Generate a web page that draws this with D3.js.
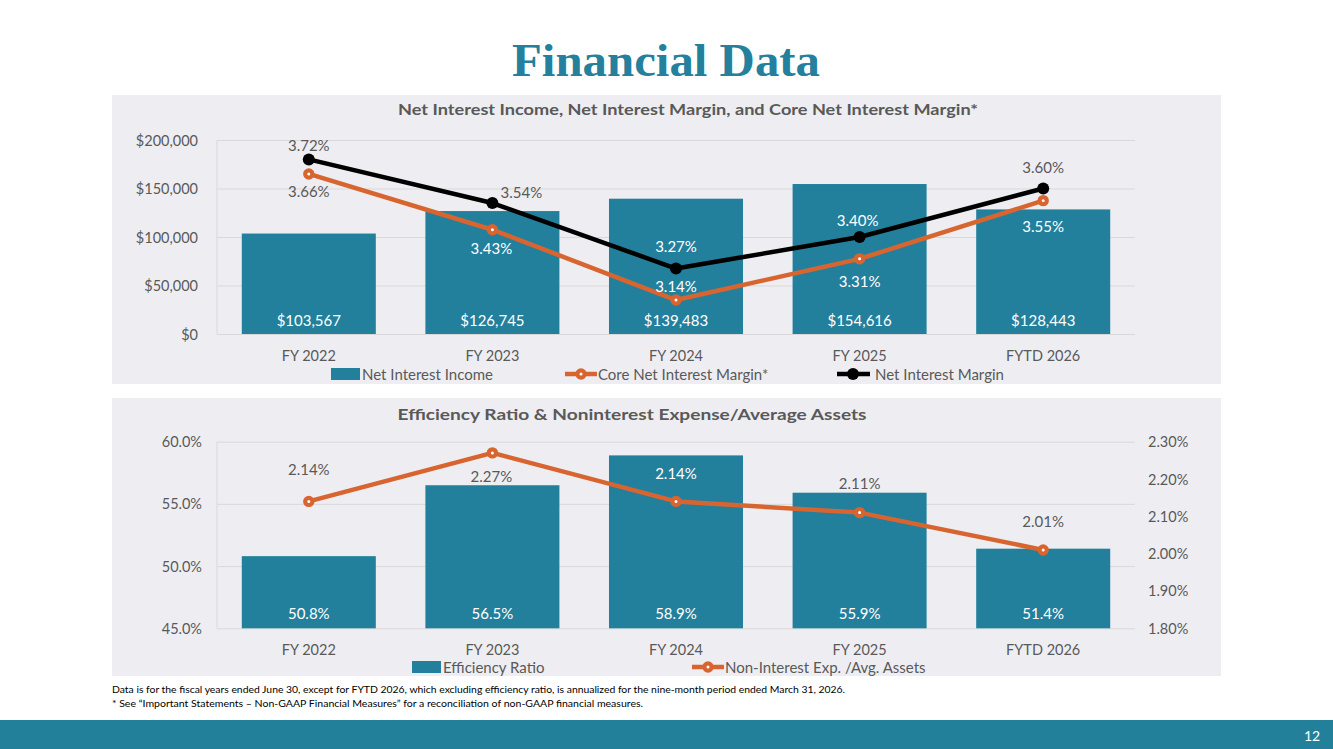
<!DOCTYPE html>
<html lang="en">
<head>
<meta charset="UTF-8">
<title>Financial Data</title>
<script src="https://cdn.jsdelivr.net/npm/d3@7/dist/d3.min.js"></script>
<style>
  body { margin: 0; background: #fff; }
  svg text { font-family: Lato, "Liberation Sans", sans-serif; }
</style>
</head>
<body>
<div id="chart"></div>
<script>
// chart values
const years = ["FY 2022", "FY 2023", "FY 2024", "FY 2025", "FYTD 2026"];
const netInterestIncome = [103567, 126745, 139483, 154616, 128443];
const coreNim = [3.66, 3.43, 3.14, 3.31, 3.55];
const nim = [3.72, 3.54, 3.27, 3.40, 3.60];
const efficiencyRatio = [50.8, 56.5, 58.9, 55.9, 51.4];
const nonIntExpAssets = [2.14, 2.27, 2.14, 2.11, 2.01];
const incomeTicks = [0, 50000, 100000, 150000, 200000];
const effTicks = [45, 50, 55, 60];
const expTicks = [1.8, 1.9, 2.0, 2.1, 2.2, 2.3];

// label nudges (like the hand-placed excel labels)
const nimLabelOff = [[0, -14], [29, -11], [0, -23], [-2, -17], [0, -22]];
const coreLabelOff = [[0, 17], [-1, 18], [0, -14], [0, 22], [0, 25]];
const expLabelOff = [[0, -32], [-1, 23], [0, -28], [0, -30], [0, -29]];

const W = 1333, H = 749;
const teal = "#23809c", orange = "#d8652f", grey = "#595959", panelBg = "#eeeef2";
const tickFs = "14.5px", labelFs = "15px";

const svg = d3.select("#chart").append("svg").attr("width", W).attr("height", H);

svg.append("text")
  .attr("x", 666).attr("y", 76)
  .attr("text-anchor", "middle")
  .style("font-family", "'Liberation Serif', 'DejaVu Serif', serif")
  .style("font-weight", "bold").style("font-size", "47px")
  .attr("fill", "#24809d")
  .attr("textLength", 308).attr("lengthAdjust", "spacingAndGlyphs")
  .text("Financial Data");

// panels
svg.append("rect").attr("x", 112).attr("y", 95).attr("width", 1109).attr("height", 289).attr("fill", panelBg);
svg.append("rect").attr("x", 112).attr("y", 398).attr("width", 1109).attr("height", 278).attr("fill", panelBg);

const x = d3.scaleBand().domain(years).range([217, 1135]).paddingInner(0.27).paddingOuter(0.135);
const cx = d => x(d) + x.bandwidth() / 2;

function grid(g, scale, ticks) {
  g.append("g")
    .attr("transform", "translate(217,0)")
    .call(d3.axisLeft(scale).tickValues(ticks).tickSize(-918).tickFormat(""))
    .call(a => a.select(".domain").remove())
    .call(a => a.selectAll("line").attr("stroke", "#d9d9d9").attr("stroke-width", 1));
  g.append("line").attr("x1", 217).attr("x2", 217)
    .attr("y1", scale.range()[1]).attr("y2", scale.range()[0])
    .attr("stroke", "#d9d9d9");
}

function xLabels(g, y) {
  g.selectAll(".xl").data(years).join("text")
    .attr("x", d => cx(d)).attr("y", y)
    .attr("text-anchor", "middle").attr("dominant-baseline", "central")
    .attr("fill", grey).style("font-size", tickFs)
    .text(d => d);
}

function lineSeries(g, vals, scale, color, width, white) {
  const line = d3.line().x((d, i) => cx(years[i])).y(d => scale(d));
  g.append("path").datum(vals).attr("d", line)
    .attr("fill", "none").attr("stroke", color).attr("stroke-width", width)
    .attr("stroke-linejoin", "round");
  g.selectAll(null).data(vals).join("circle")
    .attr("cx", (d, i) => cx(years[i])).attr("cy", d => scale(d))
    .attr("r", white ? 3.6 : 6)
    .attr("fill", white ? "#fff" : color)
    .attr("stroke", color).attr("stroke-width", white ? 4.2 : 0);
}

function pointLabels(g, vals, scale, offs, barTops, fmt) {
  g.selectAll(null).data(vals).join("text")
    .attr("x", (d, i) => cx(years[i]) + offs[i][0])
    .attr("y", (d, i) => scale(d) + offs[i][1])
    .attr("text-anchor", "middle").attr("dominant-baseline", "central")
    .style("font-size", labelFs)
    .attr("fill", (d, i) => (scale(d) + offs[i][1] > barTops[i] + 4) ? "#fff" : grey)
    .text(fmt);
}

function chartTitle(g, xc, y, len, txt) {
  g.append("text").attr("x", xc - len / 2).attr("y", y)
    .attr("dominant-baseline", "central")
    .attr("fill", grey).style("font-size", "16px").style("font-weight", "bold")
    .attr("textLength", len).attr("lengthAdjust", "spacingAndGlyphs")
    .text(txt);
}

// ---------- top chart ----------
const topG = svg.append("g");
const yInc = d3.scaleLinear().domain([0, 200000]).range([334, 140]);
const yMargin = d3.scaleLinear().domain([3.0, 3.8]).range([334, 140]);

chartTitle(topG, 688, 108, 580, "Net Interest Income, Net Interest Margin, and Core Net Interest Margin*");

grid(topG, yInc, incomeTicks);
topG.selectAll(".yl").data(incomeTicks).join("text")
  .attr("x", 198).attr("y", d => yInc(d))
  .attr("text-anchor", "end").attr("dominant-baseline", "central")
  .attr("fill", grey).style("font-size", tickFs)
  .text(d => "$" + d3.format(",")(d));

topG.selectAll(".bar").data(netInterestIncome).join("rect")
  .attr("x", (d, i) => x(years[i])).attr("width", x.bandwidth())
  .attr("y", d => yInc(d)).attr("height", d => yInc(0) - yInc(d))
  .attr("fill", teal);
topG.selectAll(".bl").data(netInterestIncome).join("text")
  .attr("x", (d, i) => cx(years[i])).attr("y", 320)
  .attr("text-anchor", "middle").attr("dominant-baseline", "central")
  .attr("fill", "#fff").style("font-size", labelFs)
  .text(d => "$" + d3.format(",")(d));

lineSeries(topG, coreNim, yMargin, orange, 4.5, true);
lineSeries(topG, nim, yMargin, "#000", 4.5, false);
const incTops = netInterestIncome.map(v => yInc(v));
pointLabels(topG, nim, yMargin, nimLabelOff, incTops, d => d.toFixed(2) + "%");
pointLabels(topG, coreNim, yMargin, coreLabelOff, incTops, d => d.toFixed(2) + "%");
xLabels(topG, 355);

// top legend
const lg1 = topG.append("g").style("font-size", labelFs);
lg1.append("rect").attr("x", 331).attr("y", 368).attr("width", 29).attr("height", 12).attr("fill", teal);
lg1.append("text").attr("x", 362).attr("y", 374).attr("dominant-baseline", "central").attr("fill", grey).text("Net Interest Income");
lg1.append("line").attr("x1", 565).attr("x2", 597).attr("y1", 374).attr("y2", 374).attr("stroke", orange).attr("stroke-width", 4.5);
lg1.append("circle").attr("cx", 581).attr("cy", 374).attr("r", 3.6).attr("fill", "#fff").attr("stroke", orange).attr("stroke-width", 4.2);
lg1.append("text").attr("x", 598).attr("y", 374).attr("dominant-baseline", "central").attr("fill", grey).text("Core Net Interest Margin*");
lg1.append("line").attr("x1", 837).attr("x2", 870).attr("y1", 374).attr("y2", 374).attr("stroke", "#000").attr("stroke-width", 4.5);
lg1.append("circle").attr("cx", 853).attr("cy", 374).attr("r", 6).attr("fill", "#000");
lg1.append("text").attr("x", 875).attr("y", 374).attr("dominant-baseline", "central").attr("fill", grey).text("Net Interest Margin");

// ---------- bottom chart ----------
const botG = svg.append("g");
const yEff = d3.scaleLinear().domain([45, 60]).range([628.3, 441.7]);
const yExp = d3.scaleLinear().domain([1.8, 2.3]).range([628.3, 441.7]);

chartTitle(botG, 632, 413, 469, "Efficiency Ratio & Noninterest Expense/Average Assets");

grid(botG, yEff, effTicks);
botG.selectAll(".yl").data(effTicks).join("text")
  .attr("x", 202).attr("y", d => yEff(d))
  .attr("text-anchor", "end").attr("dominant-baseline", "central")
  .attr("fill", grey).style("font-size", tickFs)
  .text(d => d.toFixed(1) + "%");
botG.selectAll(".yr").data(expTicks).join("text")
  .attr("x", 1148).attr("y", d => yExp(d))
  .attr("text-anchor", "start").attr("dominant-baseline", "central")
  .attr("fill", grey).style("font-size", tickFs)
  .text(d => d.toFixed(2) + "%");

botG.selectAll(".bar").data(efficiencyRatio).join("rect")
  .attr("x", (d, i) => x(years[i])).attr("width", x.bandwidth())
  .attr("y", d => yEff(d)).attr("height", d => yEff(45) - yEff(d))
  .attr("fill", teal);
botG.selectAll(".bl").data(efficiencyRatio).join("text")
  .attr("x", (d, i) => cx(years[i])).attr("y", 613)
  .attr("text-anchor", "middle").attr("dominant-baseline", "central")
  .attr("fill", "#fff").style("font-size", labelFs)
  .text(d => d.toFixed(1) + "%");

lineSeries(botG, nonIntExpAssets, yExp, orange, 4.5, true);
pointLabels(botG, nonIntExpAssets, yExp, expLabelOff, efficiencyRatio.map(v => yEff(v)), d => d.toFixed(2) + "%");
xLabels(botG, 649);

const lg2 = botG.append("g").style("font-size", labelFs);
lg2.append("rect").attr("x", 412).attr("y", 661).attr("width", 29).attr("height", 12).attr("fill", teal);
lg2.append("text").attr("x", 443).attr("y", 667).attr("dominant-baseline", "central").attr("fill", grey).text("Efficiency Ratio");
lg2.append("line").attr("x1", 692).attr("x2", 724).attr("y1", 667).attr("y2", 667).attr("stroke", orange).attr("stroke-width", 4.5);
lg2.append("circle").attr("cx", 708).attr("cy", 667).attr("r", 3.6).attr("fill", "#fff").attr("stroke", orange).attr("stroke-width", 4.2);
lg2.append("text").attr("x", 725).attr("y", 667).attr("dominant-baseline", "central").attr("fill", grey).text("Non-Interest Exp. /Avg. Assets");

// footnotes
svg.append("text").attr("x", 112).attr("y", 693)
  .style("font-size", "9.5px").attr("fill", "#000")
  .attr("textLength", 733).attr("lengthAdjust", "spacingAndGlyphs")
  .text("Data is for the fiscal years ended June 30, except for FYTD 2026, which excluding efficiency ratio, is annualized for the nine-month period ended March 31, 2026.");
svg.append("text").attr("x", 112).attr("y", 707)
  .style("font-size", "9.5px").attr("fill", "#000")
  .attr("textLength", 531).attr("lengthAdjust", "spacingAndGlyphs")
  .text("* See \u201cImportant Statements \u2013 Non-GAAP Financial Measures\u201d for a reconciliation of non-GAAP financial measures.");

// footer bar
svg.append("rect").attr("x", 0).attr("y", 720).attr("width", W).attr("height", 29).attr("fill", "#22809b");
svg.append("text").attr("x", 1312).attr("y", 735)
  .attr("text-anchor", "middle").attr("dominant-baseline", "central")
  .attr("fill", "#fff").style("font-size", "14px")
  .text("12");
</script>
</body>
</html>
